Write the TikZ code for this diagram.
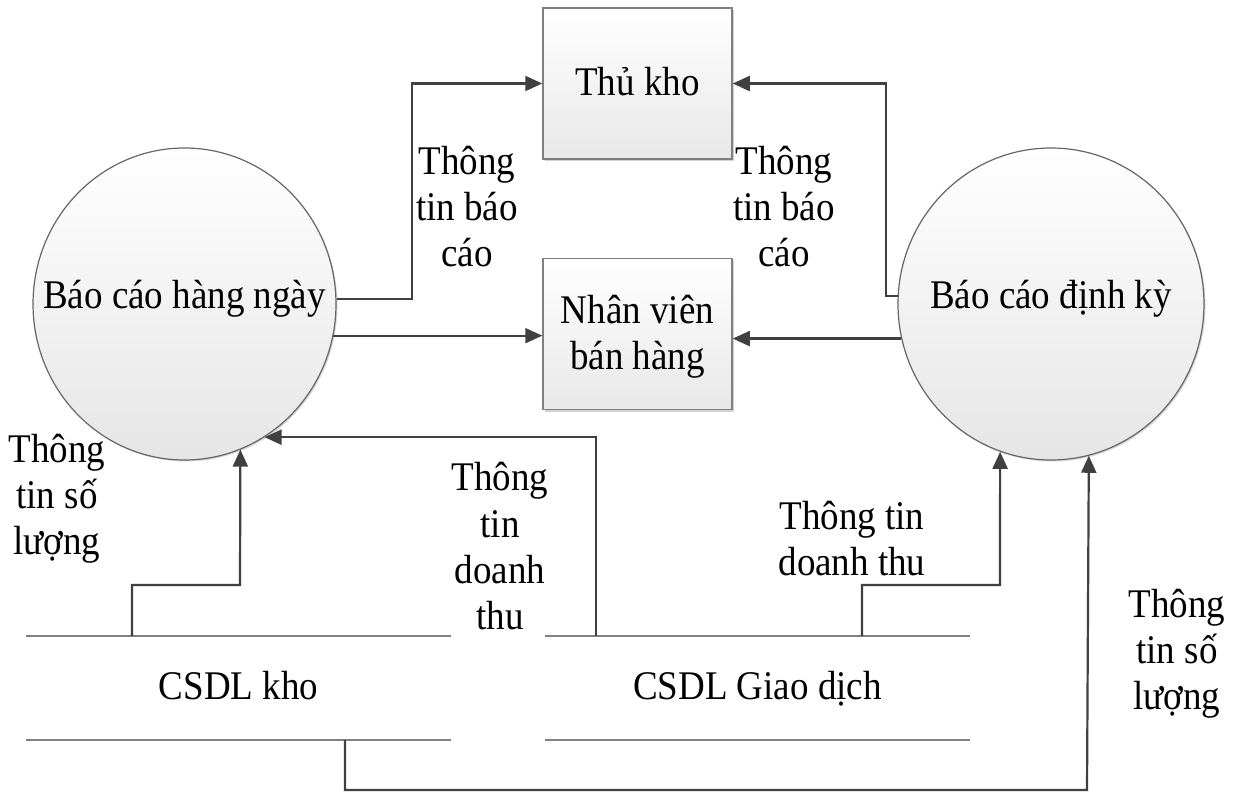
\documentclass[tikz,border=0pt]{standalone}
\usepackage{fontspec}
\usepackage{graphicx}
\setmainfont{Liberation Serif}
\usetikzlibrary{arrows.meta,shapes.geometric,shadows}
\definecolor{linec}{HTML}{404040}
\definecolor{boxedge}{HTML}{7F7F7F}
\definecolor{storec}{HTML}{808080}
% text block, slightly taller than wide
\newcommand{\tblock}[1]{\scalebox{1}[1.1]{\begin{tabular}{@{}c@{}}#1\end{tabular}}}
\begin{document}
\begin{tikzpicture}[x=1pt,y=-1pt,
  txt/.style={font=\fontsize{37}{42}\selectfont, inner sep=0pt},
  entity/.style={draw=boxedge, line width=1.5pt, top color=white, bottom color=black!9,
    minimum width=189pt, minimum height=151pt, inner sep=0pt,
    drop shadow={shadow xshift=2pt, shadow yshift=-2pt, fill=black!35}},
  process/.style={ellipse, draw=black!60, line width=1.2pt, top color=white, bottom color=black!10,
    inner sep=0pt,
    drop shadow={shadow xshift=1.5pt, shadow yshift=-1.5pt, fill=black!30}},
  store/.style={draw=storec, line width=2.5pt},
  conn/.style={draw=linec, line width=2.2pt, -{Triangle[length=17pt,width=15pt]}},
]
\useasboundingbox (0,0) rectangle (1234,794);

% external entities
\node[entity] (K) at (637.5,83.5) {};
\node[txt] (Kt) at (637.5,86) {\tblock{Thủ kho}};
\node[entity] (N) at (637.5,334) {};
\node[txt] (Nt) at (637.5,337) {\tblock{Nhân viên\\bán hàng}};

% processes
\node[process, minimum width=303pt, minimum height=312pt] (L) at (184.5,304) {};
\node[txt] (Lt) at (184.5,299) {\tblock{Báo cáo hàng ngày}};
\node[process, minimum width=306pt, minimum height=312pt] (R) at (1051,304) {};
\node[txt] (Rt) at (1051,299) {\tblock{Báo cáo định kỳ}};

% data stores
\node[txt, minimum width=425pt, minimum height=104pt] (Kho) at (238.5,688) {};
\node[txt] (Khot) at (238.5,690) {\tblock{CSDL kho}};
\draw[store] (Kho.north west) -- (Kho.north east);
\draw[store] (Kho.south west) -- (Kho.south east);
\node[txt, minimum width=425pt, minimum height=104pt] (GD) at (757.5,688) {};
\node[txt] (GDt) at (757.5,690) {\tblock{CSDL Giao dịch}};
\draw[store] (GD.north west) -- (GD.north east);
\draw[store] (GD.south west) -- (GD.south east);

% data flows
\draw[conn] (L.2.65) -- (L.2.65 -| 412,0) |- (K.west);
\draw[conn] (L.-12.18) -- (L.-12.18 -| N.west);
\draw[conn] (R.177) -- (R.177 -| 886,0) |- (K.east);
\draw[conn] (R.-167.2) -- (R.-167.2 -| N.east);
\draw[conn] (Kho.north -| 132,0) |- (240,585) -- (L.-69.08);
\draw[conn] (GD.north -| 596,0) |- (L.-59.9);
\draw[conn] (GD.north -| 862,0) |- (1000,585) -- (R.-109.1);
\draw[conn] (Kho.south -| 345,0) |- (1087,790) -- (R.-76.6);

% flow labels
\node[txt] (f1) at (467,211) {\tblock{Thông\\tin báo\\cáo}};
\node[txt] (f2) at (784,211) {\tblock{Thông\\tin báo\\cáo}};
\node[txt] (f3) at (57,499) {\tblock{Thông\\tin số\\lượng}};
\node[txt] (f4) at (500,551) {\tblock{Thông\\tin\\doanh\\thu}};
\node[txt] (f5) at (852,543) {\tblock{Thông tin\\doanh thu}};
\node[txt] (f6) at (1177,654) {\tblock{Thông\\tin số\\lượng}};
\end{tikzpicture}
\end{document}
